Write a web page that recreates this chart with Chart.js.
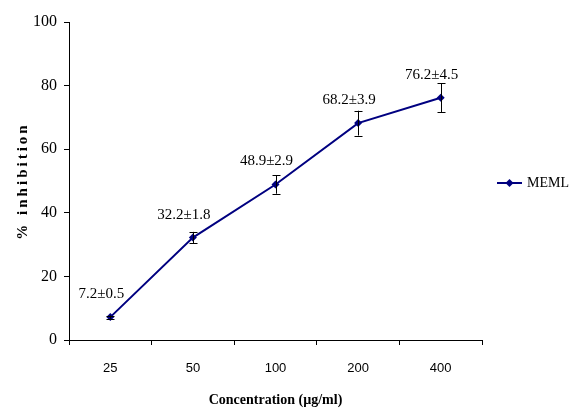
<!DOCTYPE html>
<html>
<head>
<meta charset="utf-8">
<script src="https://cdn.jsdelivr.net/npm/chart.js@4/dist/chart.umd.min.js"></script>
<style>
  body { margin: 0; background: #fff; }
  canvas { display: block; }
</style>
</head>
<body>
<canvas id="chart" width="569" height="410"></canvas>
<script>
const categories = ["25", "50", "100", "200", "400"];
const inhibition = [7.2, 32.2, 48.9, 68.2, 76.2];
const sem = [0.5, 1.8, 2.9, 3.9, 4.5];
const seriesName = "MEML";
const yMin = 0;
const yMax = 100;
const yStep = 20;

const navy = "#000080";

// error bars + value labels on each point
const errorBars = {
  id: "errorBars",
  afterDatasetsDraw(chart) {
    const ctx = chart.ctx;
    const y = chart.scales.y;
    const meta = chart.getDatasetMeta(0);
    ctx.save();
    ctx.strokeStyle = "#000";
    ctx.lineWidth = 1;
    meta.data.forEach((pt, i) => {
      const top = y.getPixelForValue(inhibition[i] + sem[i]);
      const bot = y.getPixelForValue(inhibition[i] - sem[i]);
      const x = Math.round(pt.x) + 0.5;
      ctx.beginPath();
      ctx.moveTo(x, top);
      ctx.lineTo(x, bot);
      ctx.moveTo(x - 4, Math.round(top) + 0.5);
      ctx.lineTo(x + 4, Math.round(top) + 0.5);
      ctx.moveTo(x - 4, Math.round(bot) + 0.5);
      ctx.lineTo(x + 4, Math.round(bot) + 0.5);
      ctx.stroke();
    });
    ctx.fillStyle = "#000";
    ctx.font = "15px 'Liberation Serif'";
    ctx.textAlign = "center";
    ctx.textBaseline = "middle";
    meta.data.forEach((pt, i) => {
      const txt = inhibition[i].toFixed(1) + "±" + sem[i].toFixed(1);
      ctx.fillText(txt, pt.x - 9, pt.y - 23);
    });
    ctx.restore();
  }
};

// y title with letter spacing, and the legend on the right
const extras = {
  id: "extras",
  afterDraw(chart) {
    const ctx = chart.ctx;
    const area = chart.chartArea;
    const midY = (area.top + area.bottom) / 2;
    ctx.save();
    ctx.translate(23, midY);
    ctx.rotate(-Math.PI / 2);
    ctx.font = "bold 15px 'Liberation Serif'";
    ctx.letterSpacing = "3px";
    ctx.fillStyle = "#000";
    ctx.textAlign = "center";
    ctx.textBaseline = "middle";
    ctx.fillText("% inhibition", 0, 0);
    ctx.restore();

    const lx = area.right + 15;
    const ly = midY + 2;
    ctx.save();
    ctx.strokeStyle = navy;
    ctx.lineWidth = 2;
    ctx.beginPath();
    ctx.moveTo(lx, ly);
    ctx.lineTo(lx + 25, ly);
    ctx.stroke();
    ctx.fillStyle = navy;
    ctx.beginPath();
    ctx.moveTo(lx + 12.5, ly - 4);
    ctx.lineTo(lx + 16.5, ly);
    ctx.lineTo(lx + 12.5, ly + 4);
    ctx.lineTo(lx + 8.5, ly);
    ctx.closePath();
    ctx.fill();
    ctx.fillStyle = "#000";
    ctx.font = "14px 'Liberation Serif'";
    ctx.textBaseline = "middle";
    ctx.fillText(seriesName, lx + 30, ly);
    ctx.restore();
  }
};

new Chart(document.getElementById("chart"), {
  type: "line",
  data: {
    labels: categories,
    datasets: [{
      label: seriesName,
      data: inhibition,
      borderColor: navy,
      backgroundColor: navy,
      borderWidth: 2,
      pointStyle: "rectRot",
      pointRadius: 4,
      pointBorderWidth: 0,
      tension: 0
    }]
  },
  options: {
    responsive: false,
    animation: false,
    devicePixelRatio: 1,
    layout: { padding: { top: 22, right: 87, left: 0, bottom: 0 } },
    plugins: {
      legend: { display: false },
      tooltip: { enabled: false }
    },
    scales: {
      x: {
        offset: true,
        afterFit(scale) { scale.height = 70; },
        grid: {
          offset: true,
          drawOnChartArea: false,
          tickLength: 5,
          tickColor: "#000"
        },
        border: { color: "#000", width: 1 },
        ticks: {
          padding: 16,
          color: "#000",
          font: { family: "'Liberation Sans'", size: 13 }
        },
        title: {
          display: true,
          text: "Concentration (µg/ml)",
          color: "#000",
          font: { family: "'Liberation Serif'", size: 14, weight: "bold" },
          padding: { top: 0, bottom: 1 }
        }
      },
      y: {
        min: yMin,
        max: yMax,
        afterFit(scale) { scale.width = 69; },
        grid: {
          drawOnChartArea: false,
          tickLength: 5,
          tickColor: "#000"
        },
        border: { color: "#000", width: 1 },
        ticks: {
          stepSize: yStep,
          padding: 7,
          color: "#000",
          font: { family: "'Liberation Serif'", size: 16 }
        }
      }
    }
  },
  plugins: [errorBars, extras]
});
</script>
</body>
</html>
